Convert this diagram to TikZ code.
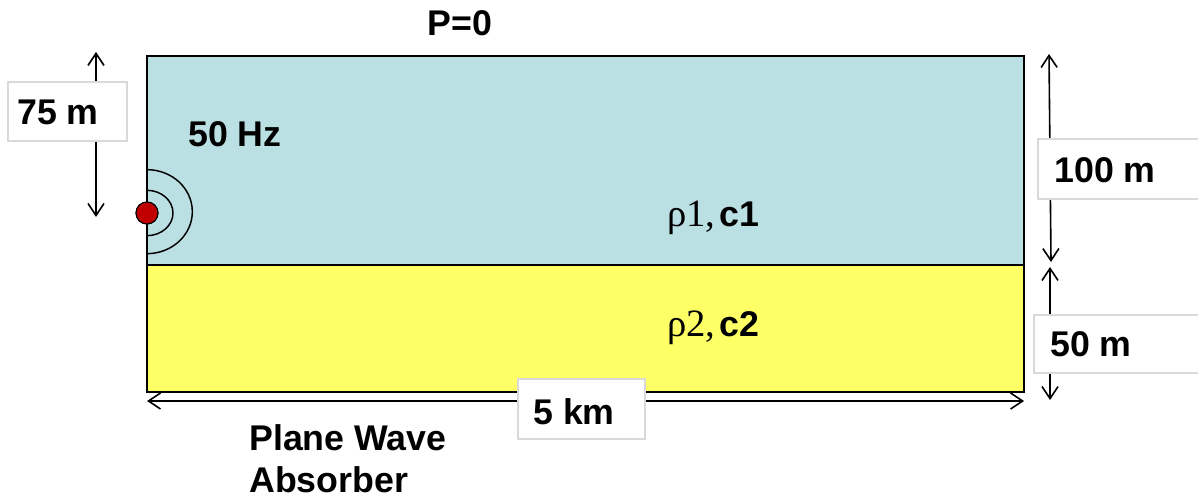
\documentclass[tikz,border=0pt]{standalone}
\usepackage{fontspec}
\setmainfont{Liberation Sans}
\newfontfamily\serifrho{Liberation Serif}
\usetikzlibrary{arrows.meta}
\definecolor{waterblue}{RGB}{187,224,227}
\definecolor{sandyellow}{RGB}{255,255,102}
\definecolor{srcred}{RGB}{192,0,0}
\definecolor{boxgray}{RGB}{217,217,217}
\begin{document}
\begin{tikzpicture}[x=0.75pt,y=-0.75pt,
  txt/.style={font=\fontsize{26.8}{31.5}\selectfont\bfseries, inner sep=0pt},
  dimarrow/.style={line width=1.2pt, {Straight Barb[length=9pt,width=12pt]}-{Straight Barb[length=9pt,width=12pt]}},
  labelbox/.style={draw=boxgray, fill=white, line width=0.8pt, inner sep=0pt},
  layer/.style={draw=black, line width=1.5pt}]
\useasboundingbox (0,0) rectangle (1198,498);
\fill[white] (0,0) rectangle (1198,498);
% layers
\filldraw[layer, fill=waterblue] (147,56) rectangle (1024,265);
\filldraw[layer, fill=sandyellow] (147,265) rectangle (1024,392);
% source and wave fronts
\node[circle, draw=black, line width=0.8pt, fill=srcred, minimum size=16.5pt, inner sep=0pt] (src) at (147,213) {};
\draw[line width=1.1pt] ([yshift=17pt]src.center) arc[start angle=90, end angle=-90, x radius=19.5pt, y radius=17pt];
\draw[line width=1.1pt] ([yshift=32.5pt]src.center) arc[start angle=90, end angle=-90, x radius=34pt, y radius=31.5pt];
\node[circle, draw=black, line width=0.8pt, fill=srcred, minimum size=16.5pt, inner sep=0pt] at (src) {};
% dimension arrow end points
\coordinate (a75t) at (96,52);
\coordinate (a75b) at (96,217);
\coordinate (a100t) at (1049,54);
\coordinate (a100b) at (1051,262);
\coordinate (a50t) at (1050,267);
\coordinate (a50b) at (1050,400);
\coordinate (a5l) at (147,401);
\coordinate (a5r) at (1024,401);
\draw[dimarrow] (a75t) -- (a75b);
\draw[dimarrow] (a100t) -- (a100b);
\draw[dimarrow] (a50t) -- (a50b);
\draw[dimarrow] (a5l) -- (a5r);
% label boxes
\node[labelbox, minimum width=89.25pt, minimum height=44.25pt] (b75) at (67.5,111.5) {};
\node[labelbox, minimum width=125.25pt, minimum height=45pt] (b100) at (1121.5,169) {};
\node[labelbox, minimum width=128.25pt, minimum height=43.5pt] (b50) at (1119.5,344) {};
\node[labelbox, minimum width=95.25pt, minimum height=45pt] (b5) at (581.5,409) {};
% texts
\node[txt, anchor=base west] (t75) at (17,125) {75 m};
\node[txt, anchor=base west] (t100) at (1054,183) {100 m};
\node[txt, anchor=base west] (t50) at (1050,357) {50 m};
\node[txt, anchor=base] (t5) at (574,424) {5 km};
\node[txt, anchor=base] (p0) at (460,36) {P=0};
\node[txt, anchor=base west] (hz) at (188,147) {50 Hz};
\node[txt, anchor=base west] (rho1) at (667,227) {{\serifrho\mdseries\fontsize{29}{32}\selectfont ρ1,}\hspace{3pt}c1};
\node[txt, anchor=base west] (rho2) at (667,337) {{\serifrho\mdseries\fontsize{29}{32}\selectfont ρ2,}\hspace{3pt}c2};
\node[txt, anchor=base west, align=left] (pwa) at (249,492) {Plane Wave\\Absorber};
\end{tikzpicture}
\end{document}
